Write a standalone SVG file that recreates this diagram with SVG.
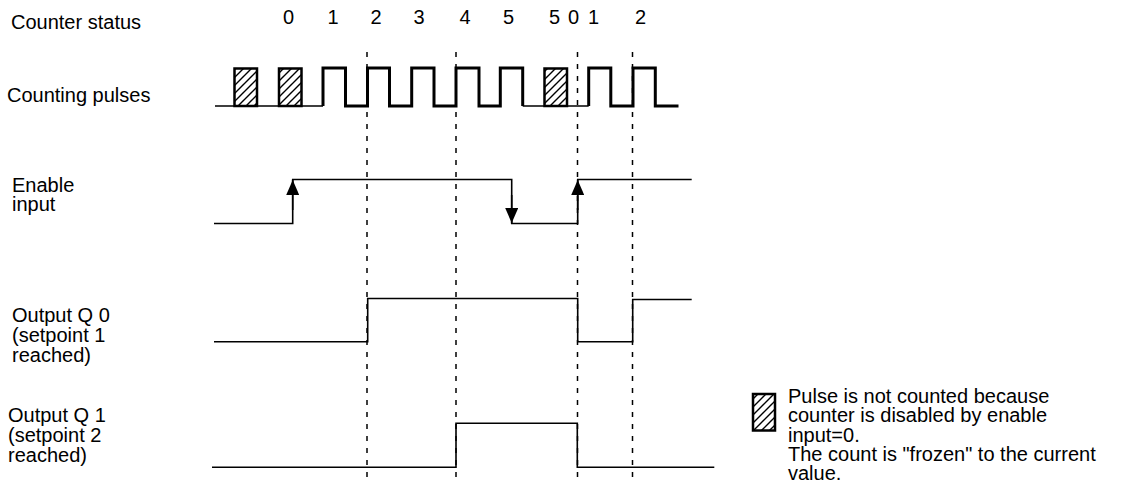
<svg xmlns="http://www.w3.org/2000/svg" width="1121" height="484" viewBox="0 0 1121 484">
<style>
text{font-family:"Liberation Sans",Arial,sans-serif;font-size:20px;fill:#000}
.num{text-anchor:middle}
.sig{fill:none;stroke:#000;stroke-width:1.6}
.thick{fill:none;stroke:#000;stroke-width:3}
.thin{fill:none;stroke:#000;stroke-width:1.5}
.dash{fill:none;stroke:#000;stroke-width:1.5;stroke-dasharray:5 7}
.hatch{fill:url(#hatch);stroke:#000;stroke-width:2.5}
</style>
<defs>
<pattern id="hatch" patternUnits="userSpaceOnUse" width="8" height="8">
<path d="M-2,2 L2,-2 M0,8 L8,0 M6,10 L10,6" stroke="#000" stroke-width="1.4"/>
</pattern>
<marker id="arr" markerUnits="userSpaceOnUse" markerWidth="15" markerHeight="13" viewBox="0 0 15 13" refX="15" refY="6.5" orient="auto">
<path d="M0,0 L15,6.5 L0,13 z" fill="#000"/>
</marker>
</defs>
<rect width="1121" height="484" fill="#fff"/>

<g id="connectors">
<line class="dash" x1="367" y1="52" x2="367" y2="484"/>
<line class="dash" x1="456" y1="52" x2="456" y2="484"/>
<line class="dash" x1="577.5" y1="52" x2="577.5" y2="484"/>
<line class="dash" x1="632.5" y1="52" x2="632.5" y2="484"/>
</g>

<g id="counter-status">
<text x="11" y="29">Counter status</text>
<text class="num" x="288.5" y="24">0</text>
<text class="num" x="333" y="24">1</text>
<text class="num" x="376" y="24">2</text>
<text class="num" x="419" y="24">3</text>
<text class="num" x="465" y="24">4</text>
<text class="num" x="508.5" y="24">5</text>
<text class="num" x="554.5" y="24">5</text>
<text class="num" x="573.5" y="24">0</text>
<text class="num" x="593.5" y="24">1</text>
<text class="num" x="640.5" y="24">2</text>
</g>

<g id="counting-pulses">
<text x="7" y="102">Counting pulses</text>
<path class="thin" d="M215,106 H323 M522.7,106 H588.7"/>
<path class="thick" d="M323,106 V68 H345.5 V106 H367.5 V68 H389.5 V106 H411.7 V68 H434 V106 H456 V68 H479 V106 H500.3 V68 H522.7 V106"/>
<path class="thick" d="M588.7,106 V68 H610.8 V106 H633 V68 H655.3 V106 H678.5"/>
<rect class="hatch" x="234.5" y="68.5" width="22.5" height="37.5"/>
<rect class="hatch" x="279" y="68.5" width="22.5" height="37.5"/>
<rect class="hatch" x="544.5" y="68.5" width="22.5" height="37.5"/>
</g>

<g id="enable-input">
<text x="12" y="192">Enable</text>
<text x="12" y="211">input</text>
<path class="sig" d="M214,223.5 H292.7 V179.5 H511.7 V223.5 H577.7 V179.5 H691.7"/>
<line class="sig" x1="292.7" y1="210" x2="292.7" y2="180" marker-end="url(#arr)"/>
<line class="sig" x1="511.7" y1="195" x2="511.7" y2="223" marker-end="url(#arr)"/>
<line class="sig" x1="577.7" y1="210" x2="577.7" y2="180" marker-end="url(#arr)"/>
</g>

<g id="output-q0">
<text x="12" y="322">Output Q 0</text>
<text x="12" y="342">(setpoint 1</text>
<text x="12" y="362">reached)</text>
<path class="sig" d="M214,341.7 H367.7 V298.5 H577.7 V341.7 H632.7 V299.5 H691.7"/>
</g>

<g id="output-q1">
<text x="8" y="422">Output Q 1</text>
<text x="8" y="442">(setpoint 2</text>
<text x="8" y="462">reached)</text>
<path class="sig" d="M212,467.3 H456 V423.3 H577.3 V467.3 H714.3"/>
</g>

<g id="legend">
<rect class="hatch" x="753" y="394" width="22" height="36.5"/>
<text x="788" y="403">Pulse is not counted because</text>
<text x="788" y="422.3">counter is disabled by enable</text>
<text x="788" y="441.6">input=0.</text>
<text x="788" y="460.9">The count is "frozen" to the current</text>
<text x="788" y="480.2">value.</text>
</g>
</svg>
